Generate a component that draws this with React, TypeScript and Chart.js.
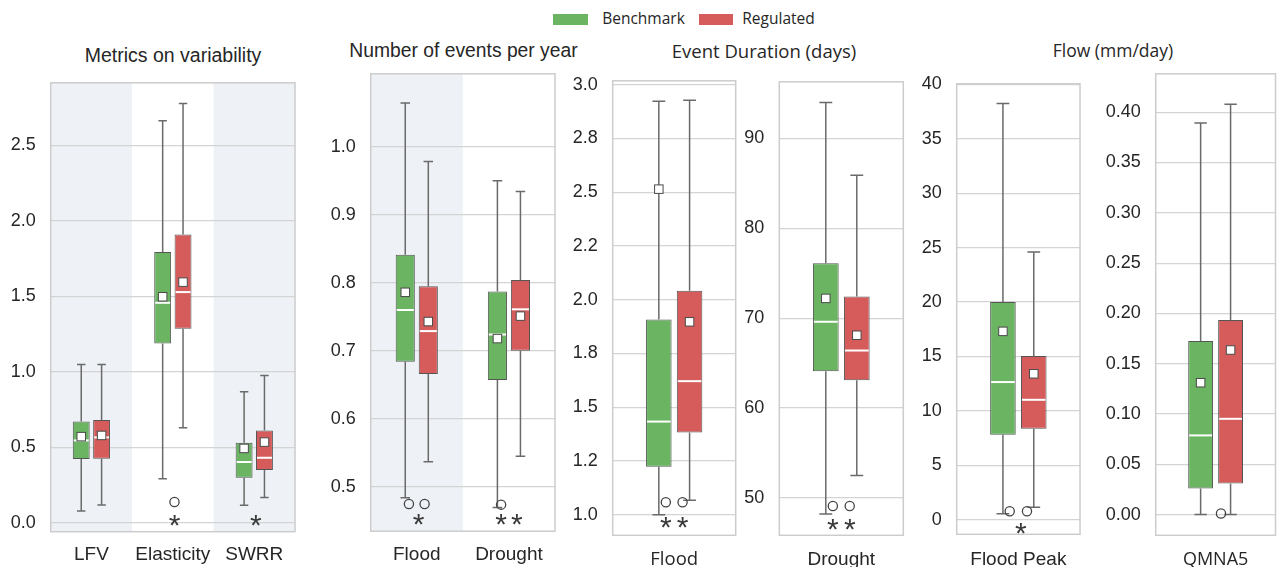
import React, { useEffect, useRef } from 'react';
import { Chart, registerables } from 'chart.js';

Chart.register(...registerables);

// ---------------- data ----------------
const SERIES_NAMES = ['Benchmark', 'Regulated'];

// Panel 1: Metrics on variability
const varCategories = ['LFV', 'Elasticity', 'SWRR'];
const varTicks = [0, 0.5, 1.0, 1.5, 2.0, 2.5];
const varTickLabels = ['0.0', '0.5', '1.0', '1.5', '2.0', '2.5'];
const varBenchmark = {
  min: [0.077, 0.291, 0.115],
  q1: [0.422, 1.187, 0.298],
  median: [0.545, 1.457, 0.402],
  q3: [0.671, 1.793, 0.53],
  max: [1.048, 2.664, 0.868],
  mean: [0.57, 1.497, 0.492],
};
const varRegulated = {
  min: [0.117, 0.629, 0.166],
  q1: [0.424, 1.285, 0.349],
  median: [0.565, 1.528, 0.43],
  q3: [0.68, 1.909, 0.611],
  max: [1.048, 2.777, 0.976],
  mean: [0.578, 1.594, 0.534],
};
const varCircles = [{ category: 1, series: -1, value: 0.137 }];
const varStars = [
  { category: 1, series: -1, value: 0.033 },
  { category: 2, series: -1, value: 0.033 },
];

// Panel 2: Number of events per year
const eventsCategories = ['Flood', 'Drought'];
const eventsTicks = [0.5, 0.6, 0.7, 0.8, 0.9, 1.0];
const eventsTickLabels = ['0.5', '0.6', '0.7', '0.8', '0.9', '1.0'];
const eventsBenchmark = {
  min: [0.484, 0.47],
  q1: [0.684, 0.657],
  median: [0.76, 0.724],
  q3: [0.841, 0.787],
  max: [1.064, 0.95],
  mean: [0.786, 0.718],
};
const eventsRegulated = {
  min: [0.537, 0.545],
  q1: [0.666, 0.7],
  median: [0.729, 0.761],
  q3: [0.795, 0.804],
  max: [0.978, 0.934],
  mean: [0.743, 0.751],
};
const eventsCircles = [
  { category: 0, series: 0, value: 0.475 },
  { category: 0, series: 1, value: 0.475 },
  { category: 1, series: 0, value: 0.474 },
];
const eventsStars = [
  { category: 0, series: -1, value: 0.457 },
  { category: 1, series: 0, value: 0.457 },
  { category: 1, series: 1, value: 0.457 },
];

// Panel 3: Event duration, flood (days)
const floodDurCategories = ['Flood'];
const floodDurTicks = [1.0, 1.25, 1.5, 1.75, 2.0, 2.25, 2.5, 2.75, 3.0];
const floodDurTickLabels = ['1.0', '1.2', '1.5', '1.8', '2.0', '2.2', '2.5', '2.8', '3.0'];
const floodDurBenchmark = { min: [1.0], q1: [1.223], median: [1.433], q3: [1.908], max: [2.923], mean: [2.514] };
const floodDurRegulated = { min: [1.067], q1: [1.382], median: [1.621], q3: [2.041], max: [2.927], mean: [1.897] };
const floodDurCircles = [
  { category: 0, series: 0, value: 1.058 },
  { category: 0, series: 1, value: 1.058 },
];
const floodDurStars = [
  { category: 0, series: 0, value: 0.977 },
  { category: 0, series: 1, value: 0.977 },
];

// Panel 4: Event duration, drought (days)
const droughtDurCategories = ['Drought'];
const droughtDurTicks = [50, 60, 70, 80, 90];
const droughtDurTickLabels = ['50', '60', '70', '80', '90'];
const droughtDurBenchmark = { min: [48.2], q1: [64.1], median: [69.6], q3: [76.1], max: [94.0], mean: [72.2] };
const droughtDurRegulated = { min: [52.5], q1: [63.1], median: [66.4], q3: [72.4], max: [85.9], mean: [68.1] };
const droughtDurCircles = [
  { category: 0, series: 0, value: 49.1 },
  { category: 0, series: 1, value: 49.1 },
];
const droughtDurStars = [
  { category: 0, series: 0, value: 47.4 },
  { category: 0, series: 1, value: 47.4 },
];

// Panel 5: Flood peak (mm/day)
const peakCategories = ['Flood Peak'];
const peakTicks = [0, 5, 10, 15, 20, 25, 30, 35, 40];
const peakTickLabels = ['0', '5', '10', '15', '20', '25', '30', '35', '40'];
const peakBenchmark = { min: [0.54], q1: [7.79], median: [12.64], q3: [20.0], max: [38.25], mean: [17.3] };
const peakRegulated = { min: [1.13], q1: [8.34], median: [11.01], q3: [15.03], max: [24.6], mean: [13.4] };
const peakCircles = [
  { category: 0, series: 0, value: 0.77 },
  { category: 0, series: 1, value: 0.77 },
];
const peakStars = [{ category: 0, series: -1, value: -0.51 }];

// Panel 6: QMNA5 (mm/day)
const qmnaCategories = ['QMNA5'];
const qmnaTicks = [0, 0.05, 0.1, 0.15, 0.2, 0.25, 0.3, 0.35, 0.4];
const qmnaTickLabels = ['0.00', '0.05', '0.10', '0.15', '0.20', '0.25', '0.30', '0.35', '0.40'];
const qmnaBenchmark = { min: [0.0], q1: [0.0259], median: [0.0787], q3: [0.1726], max: [0.3893], mean: [0.1311] };
const qmnaRegulated = { min: [0.0], q1: [0.0309], median: [0.0952], q3: [0.1935], max: [0.408], mean: [0.1636] };
const qmnaCircles = [{ category: 0, series: 1, value: 0.001 }];
const qmnaStars: { category: number; series: number; value: number }[] = [];

// ---------------- styles ----------------
const COLORS = ['#6ab462', '#d65c5c'];
const BOX_EDGE = '#555555';
const WHISKER = '#6a6a6a';
const GRID = '#d4d4d4';
const FRAME = '#cccccc';
const SHADE = '#eef2f6';
const TEXT = '#262626';
const ARIAL = '"Liberation Sans", Arial, sans-serif';
const CAL = '"Open Sans", sans-serif';

const PANELS = [
  {
    categories: varCategories, ticks: varTicks, tickLabels: varTickLabels,
    series: [varBenchmark, varRegulated], circles: varCircles, stars: varStars,
    shaded: [0, 2], frame: { l: 50.7, t: 71, r: 295, b: 531.7 }, yMin: -0.06, yMax: 2.915,
    xFont: ARIAL, xSize: 19, labelY: 555, markOff: 0.075,
  },
  {
    categories: eventsCategories, ticks: eventsTicks, tickLabels: eventsTickLabels,
    series: [eventsBenchmark, eventsRegulated], circles: eventsCircles, stars: eventsStars,
    shaded: [0], frame: { l: 370.7, t: 62.5, r: 555, b: 531.2 }, yMin: 0.435, yMax: 1.107,
    xFont: ARIAL, xSize: 19, labelY: 555, markOff: 0.085,
  },
  {
    categories: floodDurCategories, ticks: floodDurTicks, tickLabels: floodDurTickLabels,
    series: [floodDurBenchmark, floodDurRegulated], circles: floodDurCircles, stars: floodDurStars,
    shaded: [], frame: { l: 612.7, t: 69.3, r: 735.7, b: 535.3 }, yMin: 0.904, yMax: 3.018,
    xFont: CAL, xSize: 18.5, labelY: 560, markOff: 0.068,
  },
  {
    categories: droughtDurCategories, ticks: droughtDurTicks, tickLabels: droughtDurTickLabels,
    series: [droughtDurBenchmark, droughtDurRegulated], circles: droughtDurCircles, stars: droughtDurStars,
    shaded: [], frame: { l: 779.3, t: 70.4, r: 903.3, b: 535.3 }, yMin: 45.84, yMax: 96.3,
    xFont: ARIAL, xSize: 19, labelY: 560, markOff: 0.068,
  },
  {
    categories: peakCategories, ticks: peakTicks, tickLabels: peakTickLabels,
    series: [peakBenchmark, peakRegulated], circles: peakCircles, stars: peakStars,
    shaded: [], frame: { l: 956.7, t: 72.7, r: 1080, b: 534.3 }, yMin: -1.35, yMax: 40.05,
    xFont: ARIAL, xSize: 19, labelY: 560, markOff: 0.07,
  },
  {
    categories: qmnaCategories, ticks: qmnaTicks, tickLabels: qmnaTickLabels,
    series: [qmnaBenchmark, qmnaRegulated], circles: qmnaCircles, stars: qmnaStars,
    shaded: [], frame: { l: 1155.7, t: 62.5, r: 1275.5, b: 535.3 }, yMin: -0.0206, yMax: 0.4382,
    xFont: CAL, xSize: 18, labelY: 560, markOff: 0.045,
  },
];

function BoxPanel({ cfg, idx }: { cfg: any; idx: number }) {
  const ref = useRef<HTMLCanvasElement>(null);
  const f = cfg.frame;
  const CL = Math.round(f.l) - 62;
  const CT = Math.floor(f.t) - 14;
  const CR = Math.min(1277, Math.ceil(f.r) + 2);
  const CW = CR - CL;
  const CH = 567 - CT;

  useEffect(() => {
    const canvas = ref.current as HTMLCanvasElement;
    const yAxisW = f.l - CL;
    const xAxisH = 567 - f.b;
    const padTop = f.t - CT;
    const padRight = CR - f.r;
    const xPad = cfg.labelY - f.b - cfg.xSize * 0.6;

    const markX = (x: any, category: number, series: number) => {
      const off = series === 0 ? -cfg.markOff : series === 1 ? cfg.markOff : 0.02;
      return x.getPixelForValue(category + off);
    };

    const plugin = {
      id: 'boxExtras' + idx,
      beforeDraw(chart: any) {
        const { ctx, chartArea: a } = chart;
        const n = cfg.categories.length;
        const cw = (a.right - a.left) / n;
        ctx.save();
        ctx.fillStyle = SHADE;
        cfg.shaded.forEach((i: number) => ctx.fillRect(a.left + i * cw, a.top, cw, a.bottom - a.top));
        ctx.restore();
      },
      beforeDatasetsDraw(chart: any) {
        const { ctx, chartArea: a } = chart;
        ctx.save();
        ctx.strokeStyle = FRAME;
        ctx.lineWidth = 1.5;
        ctx.strokeRect(a.left, a.top, a.right - a.left, a.bottom - a.top);
        ctx.restore();
      },
      afterDatasetsDraw(chart: any) {
        const { ctx, scales } = chart;
        const x = scales.x;
        const y = scales.y;
        ctx.save();
        cfg.series.forEach((s: any, k: number) => {
          const meta = chart.getDatasetMeta(k);
          meta.data.forEach((bar: any, i: number) => {
            const cx = bar.x;
            const w = bar.width;
            const pMin = y.getPixelForValue(s.min[i]);
            const pQ1 = y.getPixelForValue(s.q1[i]);
            const pQ3 = y.getPixelForValue(s.q3[i]);
            const pMax = y.getPixelForValue(s.max[i]);
            const pMed = y.getPixelForValue(s.median[i]);
            const pMean = y.getPixelForValue(s.mean[i]);
            ctx.strokeStyle = WHISKER;
            ctx.lineWidth = 1.5;
            ctx.beginPath();
            ctx.moveTo(cx, pQ1); ctx.lineTo(cx, pMin);
            ctx.moveTo(cx - w / 4, pMin); ctx.lineTo(cx + w / 4, pMin);
            ctx.moveTo(cx, pQ3); ctx.lineTo(cx, pMax);
            ctx.moveTo(cx - w / 4, pMax); ctx.lineTo(cx + w / 4, pMax);
            ctx.stroke();
            ctx.strokeStyle = '#ffffff';
            ctx.lineWidth = 2;
            ctx.beginPath();
            ctx.moveTo(cx - w / 2 + 1, pMed); ctx.lineTo(cx + w / 2 - 1, pMed);
            ctx.stroke();
            const sz = 8.5;
            ctx.fillStyle = '#ffffff';
            ctx.strokeStyle = '#4a4a4a';
            ctx.lineWidth = 1;
            ctx.fillRect(cx - sz / 2, pMean - sz / 2, sz, sz);
            ctx.strokeRect(cx - sz / 2, pMean - sz / 2, sz, sz);
          });
        });
        cfg.circles.forEach((c: any) => {
          const cx = markX(x, c.category, c.series);
          const cy = y.getPixelForValue(c.value);
          ctx.strokeStyle = '#444444';
          ctx.lineWidth = 1.3;
          ctx.beginPath();
          ctx.arc(cx, cy, 4.6, 0, Math.PI * 2);
          ctx.stroke();
        });
        cfg.stars.forEach((st: any) => {
          const cx = markX(x, st.category, st.series);
          const cy = y.getPixelForValue(st.value);
          const size = 30;
          ctx.fillStyle = '#3a3a3a';
          ctx.font = `${size}px ${ARIAL}`;
          ctx.textAlign = 'center';
          ctx.textBaseline = 'alphabetic';
          ctx.fillText('*', cx, cy + size * 0.58);
        });
        ctx.restore();
      },
    };

    const chart = new Chart(canvas, {
      type: 'bar',
      data: {
        labels: cfg.categories,
        datasets: cfg.series.map((s: any, k: number) => ({
          label: SERIES_NAMES[k],
          data: s.q1.map((v: number, i: number) => [v, s.q3[i]]),
          backgroundColor: COLORS[k],
          borderColor: BOX_EDGE,
          borderWidth: 1,
          borderSkipped: false,
          categoryPercentage: 0.5,
          barPercentage: 0.83,
        })),
      },
      options: {
        responsive: false,
        animation: false,
        devicePixelRatio: 1,
        events: [],
        layout: { autoPadding: false, padding: { top: padTop, right: padRight, left: 0, bottom: 0 } },
        plugins: { legend: { display: false }, tooltip: { enabled: false }, title: { display: false } },
        scales: {
          x: {
            type: 'category',
            grid: { display: false, drawTicks: false },
            border: { display: false },
            ticks: {
              color: TEXT,
              font: { family: cfg.xFont, size: cfg.xSize },
              padding: xPad,
              maxRotation: 0,
              autoSkip: false,
            },
            afterFit: (s: any) => { s.height = xAxisH; },
          },
          y: {
            type: 'linear',
            min: cfg.yMin,
            max: cfg.yMax,
            grid: { color: GRID, lineWidth: 1.2, drawTicks: false },
            border: { display: false },
            ticks: {
              color: TEXT,
              font: { family: ARIAL, size: 18 },
              padding: 15,
              callback: (_v: any, i: number) => cfg.tickLabels[i],
            },
            afterBuildTicks: (s: any) => { s.ticks = cfg.ticks.map((v: number) => ({ value: v })); },
            afterFit: (s: any) => { s.width = yAxisW; },
          },
        },
      } as any,
      plugins: [plugin],
    });
    return () => chart.destroy();
  }, []);

  return (
    <canvas
      ref={ref}
      width={CW}
      height={CH}
      style={{ position: 'absolute', left: CL, top: CT, width: CW, height: CH }}
    />
  );
}

const titleStyle = (x: number, y: number, font: string, size: number): React.CSSProperties => ({
  position: 'absolute', left: x, top: y, transform: 'translate(-50%, -50%)',
  whiteSpace: 'nowrap', lineHeight: 1, fontFamily: font, fontSize: size, color: TEXT,
});

export default function App() {
  return (
    <div style={{ position: 'absolute', left: 0, top: 0, width: 1277, height: 567, overflow: 'hidden', background: '#ffffff' }}>
      {/* legend */}
      <div style={{ position: 'absolute', left: 553, top: 13.5, width: 35, height: 11, background: COLORS[0] }} />
      <div style={{ ...titleStyle(643.5, 19, CAL, 15.5) }}>{SERIES_NAMES[0]}</div>
      <div style={{ position: 'absolute', left: 699, top: 13.5, width: 34, height: 11, background: COLORS[1] }} />
      <div style={{ ...titleStyle(778.5, 19, CAL, 15.5) }}>{SERIES_NAMES[1]}</div>
      {/* panel titles */}
      <div style={titleStyle(173, 55.5, ARIAL, 19.5)}>Metrics on variability</div>
      <div style={titleStyle(463.5, 50.5, ARIAL, 19.3)}>Number of events per year</div>
      <div style={titleStyle(764, 51, CAL, 18.5)}>Event Duration (days)</div>
      <div style={titleStyle(1113, 50.5, CAL, 17.5)}>Flow (mm/day)</div>
      {PANELS.map((p, i) => <BoxPanel key={i} cfg={p} idx={i} />)}
    </div>
  );
}
